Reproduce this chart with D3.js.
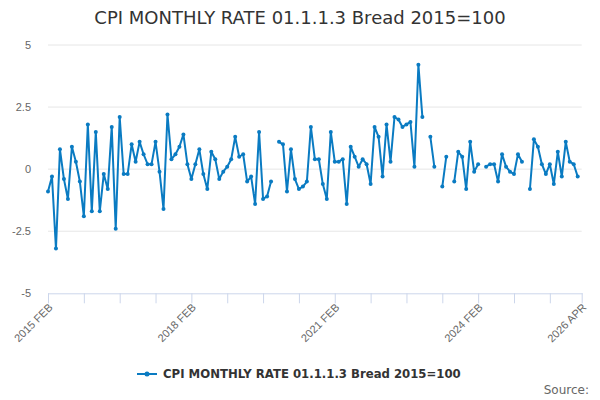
<!DOCTYPE html>
<html>
<head>
<meta charset="utf-8">
<script src="https://cdn.jsdelivr.net/npm/d3@7"></script>
<style>
  body { margin: 0; background: #fff; }
  svg { font-family: "DejaVu Sans", sans-serif; }
</style>
</head>
<body>
<div id="chart"></div>
<script>
const monthNames = ["JAN","FEB","MAR","APR","MAY","JUN","JUL","AUG","SEP","OCT","NOV","DEC"];

// months 2015 FEB .. 2026 APR
let months = [];
for (let yr = 2015; yr <= 2026; yr++) {
    for (let m = 0; m < 12; m++) {
        if (yr === 2015 && m < 1) continue;
        if (yr === 2026 && m > 3) continue;
        months.push(yr + " " + monthNames[m]);
    }
}

const rates = [
    -0.9, -0.3, -3.2, 0.8, -0.4, -1.2, 0.9, 0.3, -0.5, -1.9, 1.8, -1.7,
    1.5, -1.7, -0.2, -0.8, 1.7, -2.4, 2.1, -0.2, -0.2, 1.0, 0.3, 1.1,
    0.6, 0.2, 0.2, 1.1, -0.1, -1.6, 2.2, 0.4, 0.6, 0.9, 1.4, 0.2,
    -0.4, 0.2, 0.8, -0.2, -0.8, 0.7, 0.4, -0.4, -0.1, 0.1, 0.4, 1.3,
    0.5, 0.6, -0.5, -0.3, -1.4, 1.5, -1.2, -1.1, -0.5, null, 1.1, 1.0,
    -0.9, 0.8, -0.4, -0.8, -0.7, -0.5, 1.7, 0.4, 0.4, -0.6, -1.2, 1.5,
    0.3, 0.3, 0.4, -1.4, 0.9, 0.5, 0.1, 0.4, 0.2, -0.6, 1.7, 1.3,
    -0.3, 1.8, 0.3, 2.1, 2.0, 1.7, 1.8, 1.9, 0.1, 4.2, 2.1, null,
    1.3, 0.1, null, -0.7, 0.5, null, -0.5, 0.7, 0.5, -0.8, 1.1, -0.1,
    0.2, null, 0.1, 0.2, 0.2, -0.5, 0.6, 0.1, -0.1, -0.2, 0.6, 0.3,
    null, -0.8, 1.2, 0.9, 0.2, -0.2, 0.2, -0.6, 0.7, -0.3, 1.1, 0.3,
    0.2, -0.3, null
];

const yTicks = [-5, -2.5, 0, 2.5, 5];
const xLabelled = ["2015 FEB", "2018 FEB", "2021 FEB", "2024 FEB", "2026 APR"];
const seriesName = "CPI MONTHLY RATE 01.1.1.3 Bread 2015=100";

const wSvg = 600;
const hSvg = 400;
const plotLeft = 48, plotRight = 581.7, plotTop = 45, plotBottom = 293.3;
const lineColor = "#0a7bc2";

let data = months.map((m, i) => ({month: m, v: rates[i]}));

// tick every 9 months, plus the last category
let xTickValues = months.filter((m, i) => i % 9 === 0 && i < months.length - 5);
xTickValues.push(months[months.length - 1]);

let x = d3.scalePoint(months, [plotLeft, plotRight]);
let y = d3.scaleLinear([-5, 5], [plotBottom, plotTop]);

let svg = d3.select("#chart")
    .append("svg")
    .attr("width", wSvg)
    .attr("height", hSvg);

svg.append("text")
    .attr("x", wSvg / 2)
    .attr("y", 24)
    .attr("text-anchor", "middle")
    .attr("fill", "#333")
    .style("font-size", "18px")
    .text(seriesName);

// grid
svg.append("g")
    .selectAll("line")
    .data(yTicks.filter(t => t !== -5))
    .enter()
    .append("line")
    .attr("x1", plotLeft)
    .attr("x2", plotRight)
    .attr("y1", d => y(d))
    .attr("y2", d => y(d))
    .attr("stroke", "#e6e6e6");

let yAxis = d3.axisLeft(y).tickValues(yTicks).tickSize(0).tickPadding(0).tickFormat(d => d);
svg.append("g")
    .attr("transform", `translate(${plotLeft - 17}, 0)`)
    .call(yAxis)
    .call(g => g.select(".domain").remove())
    .selectAll("text")
    .attr("fill", "#666")
    .attr("dy", "0.32em")
    .style("font-size", "11px");

let xAxis = d3.axisBottom(x)
    .tickValues(xTickValues)
    .tickSize(10)
    .tickSizeOuter(0)
    .tickFormat(d => xLabelled.includes(d) ? d : "");
svg.append("g")
    .attr("transform", `translate(0, ${plotBottom})`)
    .call(xAxis)
    .call(g => g.select(".domain").attr("d", `M${plotLeft},0.5H${plotRight + 1}`))
    .call(g => g.selectAll(".domain, .tick line").attr("stroke", "#ccd6eb"))
    .selectAll("text")
    .attr("fill", "#666")
    .style("font-size", "11px")
    .style("text-anchor", "end")
    .attr("transform", "rotate(-45)")
    .attr("x", -7)
    .attr("y", 10)
    .attr("dy", "0.35em");

let line = d3.line()
    .defined(d => d.v !== null)
    .x(d => x(d.month))
    .y(d => y(d.v));

svg.append("path")
    .datum(data)
    .attr("fill", "none")
    .attr("stroke", lineColor)
    .attr("stroke-width", 2)
    .attr("stroke-linejoin", "round")
    .attr("d", line);

svg.append("g")
    .selectAll("circle")
    .data(data.filter(d => d.v !== null))
    .enter()
    .append("circle")
    .attr("cx", d => x(d.month))
    .attr("cy", d => y(d.v))
    .attr("r", 2)
    .attr("fill", lineColor);

// legend
let legend = svg.append("g").attr("transform", "translate(0, 374)");
legend.append("line")
    .attr("x1", 137).attr("x2", 157)
    .attr("stroke", lineColor)
    .attr("stroke-width", 2);
legend.append("circle")
    .attr("cx", 147)
    .attr("r", 2.5)
    .attr("fill", lineColor);
legend.append("text")
    .attr("x", 163)
    .attr("dy", "0.35em")
    .attr("fill", "#333")
    .style("font-size", "11.7px")
    .style("font-weight", "bold")
    .text(seriesName);

svg.append("text")
    .attr("x", 589)
    .attr("y", 394)
    .attr("text-anchor", "end")
    .attr("fill", "#666")
    .style("font-size", "12px")
    .text("Source:");
</script>
</body>
</html>
